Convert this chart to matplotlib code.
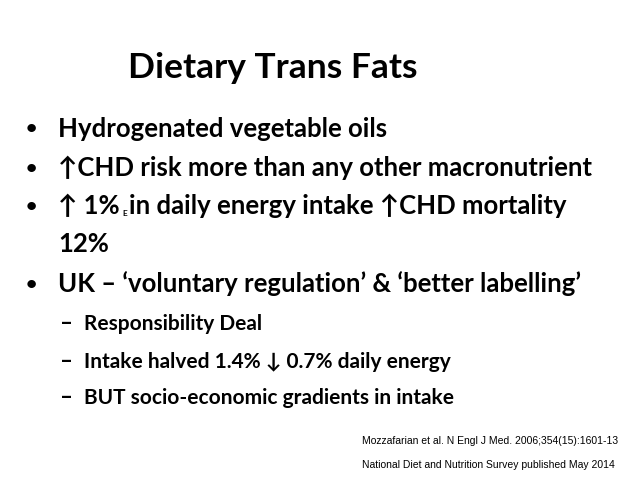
import matplotlib
matplotlib.use("Agg")
import matplotlib.pyplot as plt

title = "Dietary Trans Fats"
bullets = ["Hydrogenated vegetable oils",
           "↑CHD risk more than any other macronutrient",
           None,
           "UK – ‘voluntary regulation’ & ‘better labelling’"]
subs = ["Responsibility Deal", "Intake halved 1.4% ↓ 0.7% daily energy",
        "BUT socio-economic gradients in intake"]
refs = ["Mozzafarian et al. N Engl J Med. 2006;354(15):1601-13",
        "National Diet and Nutrition Survey published May 2014"]

fam = ['Lato', 'DejaVu Sans']
W, H = 638, 479
fig = plt.figure(figsize=(W/100, H/100), dpi=100)
ax = fig.add_axes([0, 0, 1, 1])
ax.set_xlim(0, W); ax.set_ylim(H, 0); ax.axis('off')

def t(x, y, s, size, **kw):
    ax.text(x, y, s, fontsize=size, family=fam, fontweight='bold', va='center', ha='left', **kw)

t(128, 68, title, 25.5)
ys = [129, 168, 206, 284]
for y, b in zip(ys, bullets):
    t(26, y, "•", 14)
    if b:
        t(58, y, b, 18.5)
t(58, 206, "↑ 1%", 18.5)
t(122, 213, "E", 6)
t(129, 206, "in daily energy intake ↑CHD mortality", 18.5)
t(58, 244, "12%", 18.5)
for y, s in zip([324, 362, 398], subs):
    t(60, y, "–", 16)
    t(84, y, s, 15)
for y, s in zip([441, 465], refs):
    ax.text(362, y, s, fontsize=7.5, family=['Liberation Sans'], va='center', ha='left')
fig.savefig("out.png", dpi=100)
